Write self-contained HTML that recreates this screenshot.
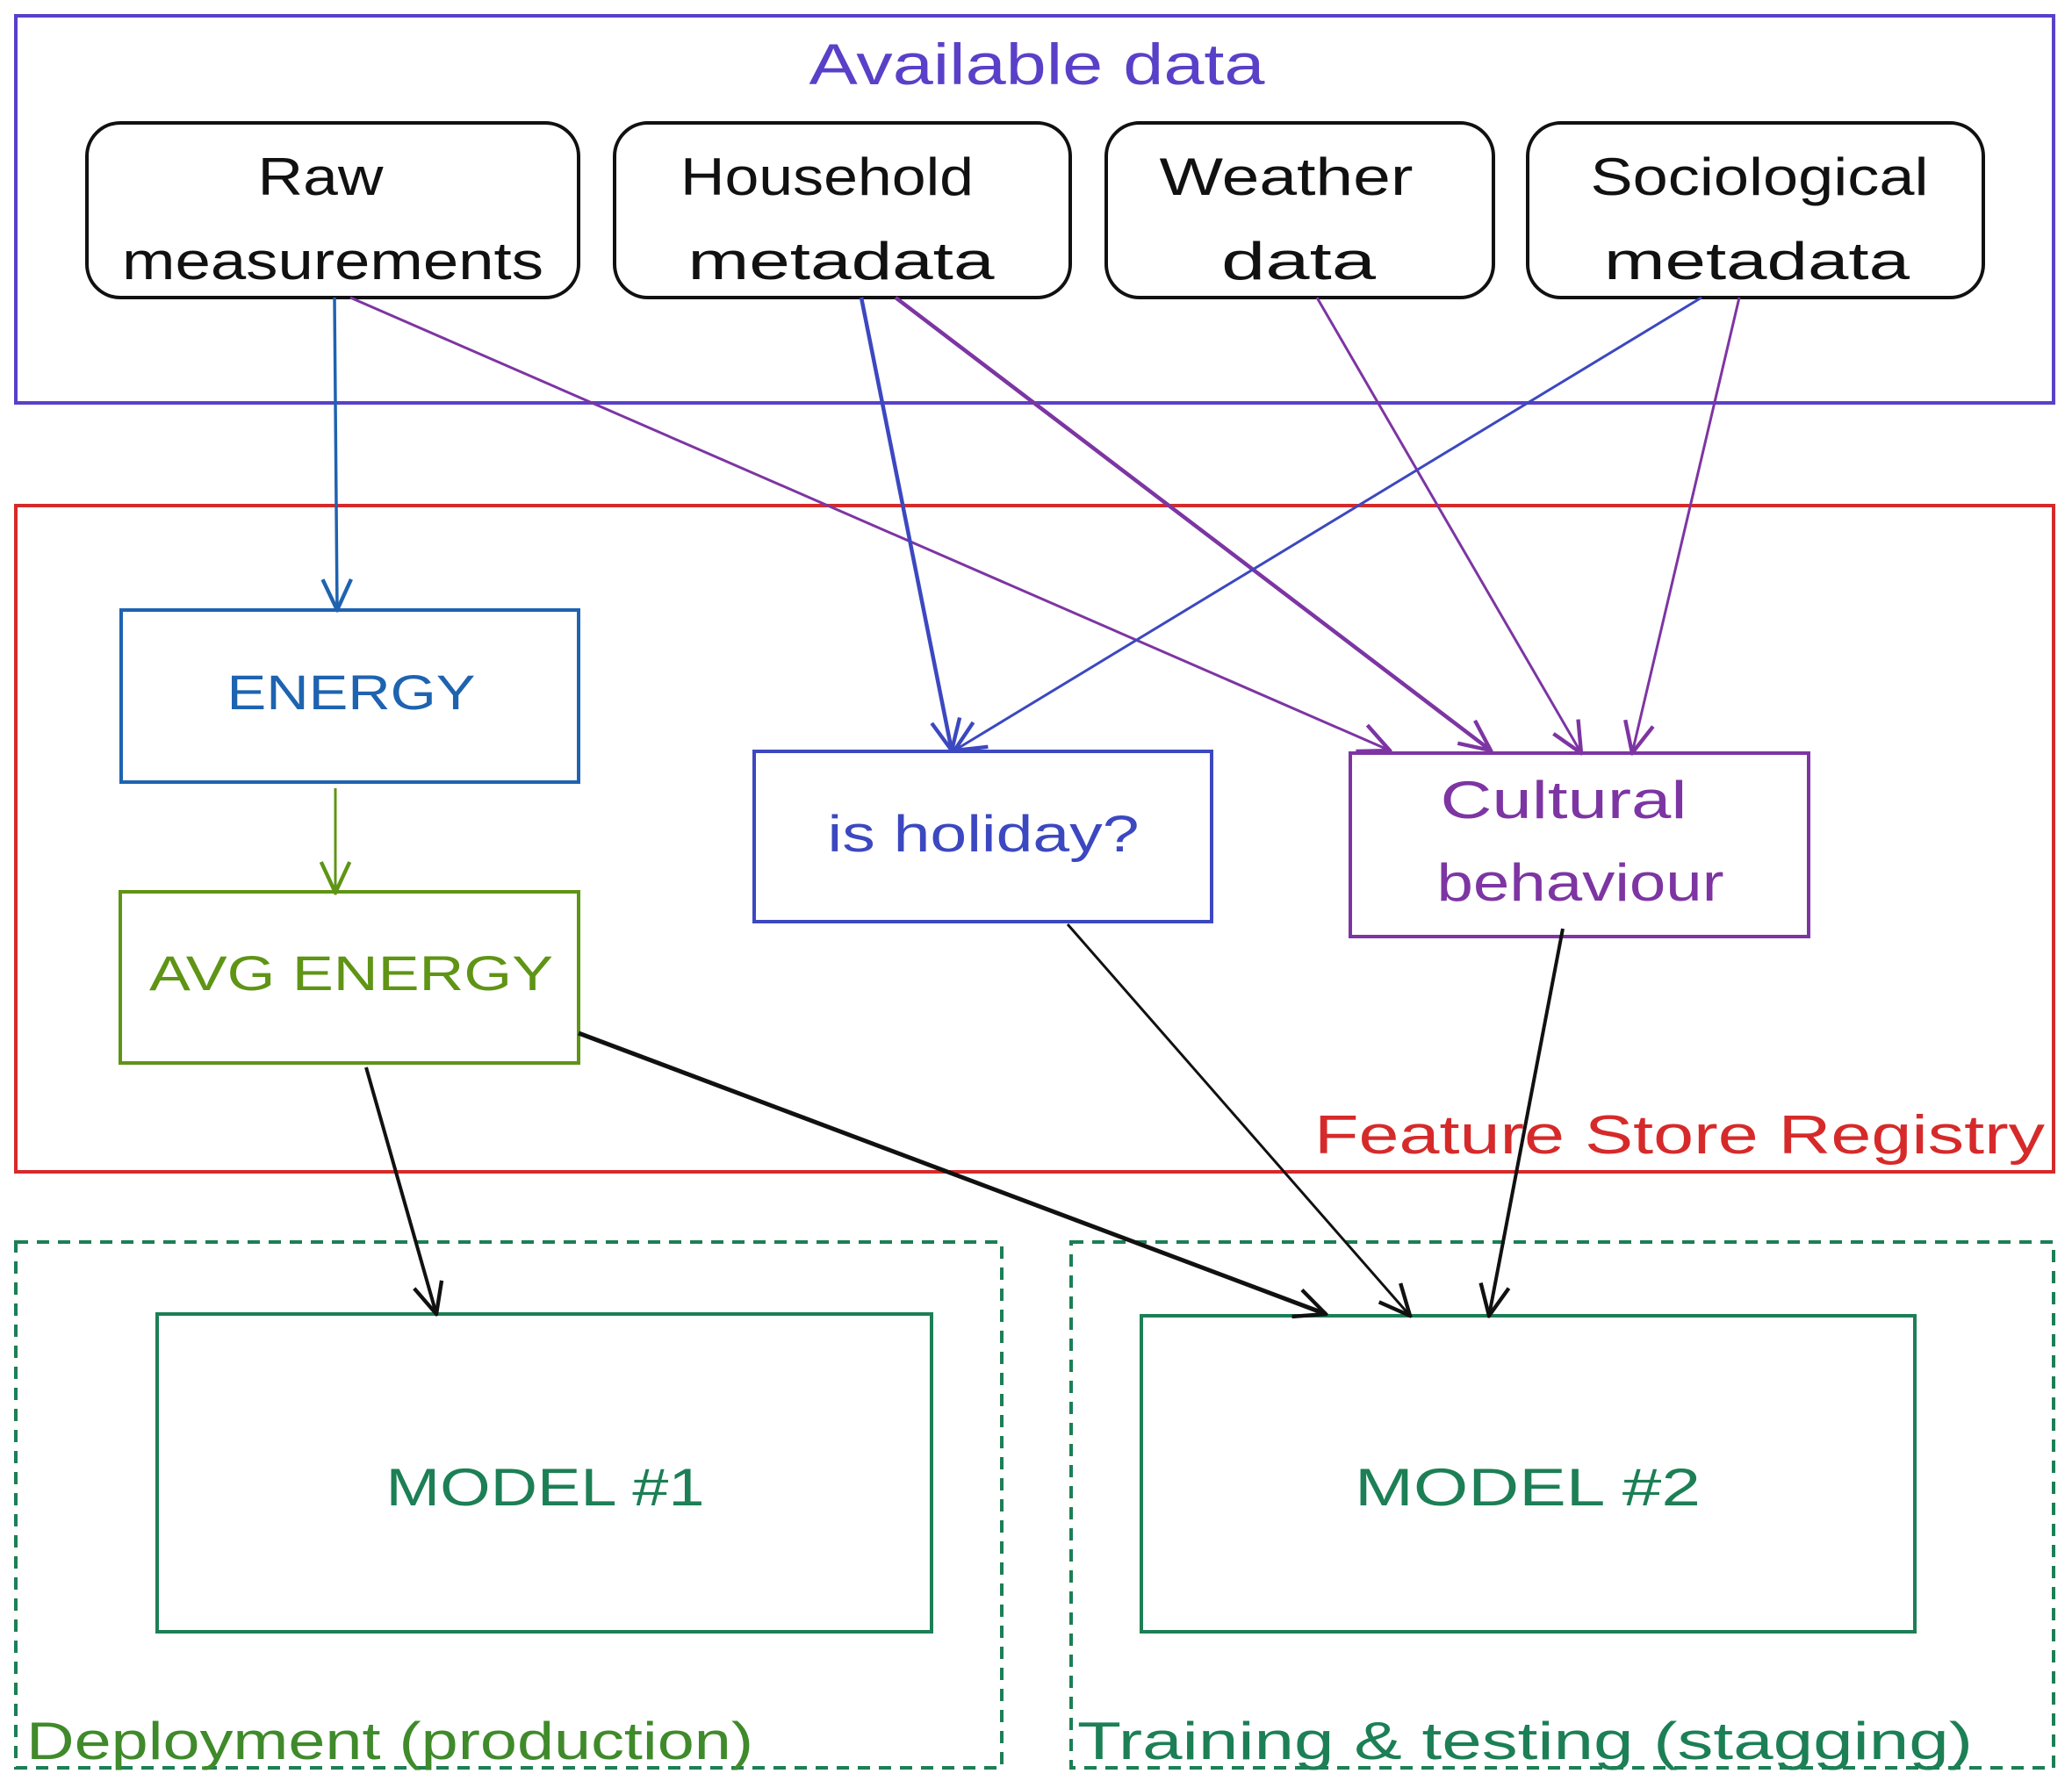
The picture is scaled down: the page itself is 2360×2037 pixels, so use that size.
<!DOCTYPE html>
<html><head><meta charset="utf-8"><style>
html,body{margin:0;padding:0;background:#fff;}
svg{display:block;}
text{font-family:"Liberation Sans",sans-serif;}
</style></head><body>
<svg width="2360" height="2037" viewBox="0 0 2360 2037" xmlns="http://www.w3.org/2000/svg">
<defs>
<marker id="ab" markerWidth="40" markerHeight="40" refX="0" refY="0" viewBox="-30 -15 32 30" orient="auto" markerUnits="userSpaceOnUse">
<path d="M-28,-13 L0,0 L-28,13" fill="none" stroke="context-stroke" stroke-width="3.5"/>
</marker>
</defs>
<g fill="none" stroke-width="4">
<rect x="18" y="18" width="2321" height="441" stroke="#5a40c8"/>
<rect x="18" y="576" width="2321" height="759" stroke="#d62a2a"/>
<rect x="18" y="1415" width="1123" height="599" stroke="#1c7f55" stroke-dasharray="14 10"/>
<rect x="1220" y="1415" width="1119" height="599" stroke="#1c7f55" stroke-dasharray="14 10"/>
<rect x="99" y="140" width="560" height="199" rx="38" stroke="#111"/>
<rect x="700" y="140" width="519" height="199" rx="38" stroke="#111"/>
<rect x="1260" y="140" width="441" height="199" rx="38" stroke="#111"/>
<rect x="1740" y="140" width="519" height="199" rx="38" stroke="#111"/>
<rect x="138" y="695" width="521" height="196" stroke="#1e63b0"/>
<rect x="137" y="1016" width="522" height="195" stroke="#5f9415"/>
<rect x="859" y="856" width="521" height="194" stroke="#3c48c0"/>
<rect x="1538" y="858" width="522" height="209" stroke="#7d35a3"/>
<rect x="179" y="1497" width="882" height="362" stroke="#1c7f55"/>
<rect x="1300" y="1499" width="881" height="360" stroke="#1c7f55"/>
</g>
<g fill="none" stroke-width="3" marker-end="url(#ab)">
<line x1="381" y1="339" x2="384" y2="695" stroke="#1e63b0" stroke-width="3.5"/>
<line x1="399" y1="339" x2="1583" y2="855" stroke="#7d35a3"/>
<line x1="981" y1="339" x2="1084" y2="855" stroke="#3c48c0" stroke-width="4.5"/>
<line x1="1020" y1="339" x2="1698" y2="855" stroke="#7d35a3" stroke-width="4.5"/>
<line x1="1500" y1="339" x2="1801" y2="858" stroke="#7d35a3"/>
<line x1="1938" y1="339" x2="1087" y2="855" stroke="#3c48c0"/>
<line x1="1981" y1="339" x2="1859" y2="858" stroke="#7d35a3"/>
<line x1="382" y1="898" x2="382" y2="1017" stroke="#5f9415"/>
<line x1="417" y1="1216" x2="497" y2="1497" stroke="#111" stroke-width="4"/>
<line x1="659" y1="1177" x2="1510" y2="1497" stroke="#111" stroke-width="5"/>
<line x1="1216" y1="1053" x2="1606" y2="1499" stroke="#111"/>
<line x1="1780" y1="1058" x2="1696" y2="1499" stroke="#111" stroke-width="4"/>
</g>
<g text-anchor="middle" font-size="60" lengthAdjust="spacingAndGlyphs">
<text x="1181" y="96" fill="#5a40c8" font-size="66" textLength="519" lengthAdjust="spacingAndGlyphs">Available data</text>
<text x="365" y="222" fill="#111" textLength="143" lengthAdjust="spacingAndGlyphs">Raw</text>
<text x="379" y="318" fill="#111" textLength="480" lengthAdjust="spacingAndGlyphs">measurements</text>
<text x="942" y="222" fill="#111" textLength="334" lengthAdjust="spacingAndGlyphs">Household</text>
<text x="958" y="318" fill="#111" textLength="349" lengthAdjust="spacingAndGlyphs">metadata</text>
<text x="1465" y="222" fill="#111" textLength="289" lengthAdjust="spacingAndGlyphs">Weather</text>
<text x="1479" y="318" fill="#111" textLength="176" lengthAdjust="spacingAndGlyphs">data</text>
<text x="2004" y="222" fill="#111" textLength="385" lengthAdjust="spacingAndGlyphs">Sociological</text>
<text x="2001" y="318" fill="#111" textLength="348" lengthAdjust="spacingAndGlyphs">metadata</text>
<text x="400" y="808" fill="#1e63b0" font-size="56" textLength="283" lengthAdjust="spacingAndGlyphs">ENERGY</text>
<text x="400" y="1128" fill="#5f9415" font-size="56" textLength="460" lengthAdjust="spacingAndGlyphs">AVG ENERGY</text>
<text x="1120" y="970" fill="#3c48c0" font-size="58" textLength="355" lengthAdjust="spacingAndGlyphs">is holiday?</text>
<text x="1781" y="932" fill="#7d35a3" font-size="60" textLength="281" lengthAdjust="spacingAndGlyphs">Cultural</text>
<text x="1800" y="1026" fill="#7d35a3" font-size="60" textLength="327" lengthAdjust="spacingAndGlyphs">behaviour</text>
<text x="1913" y="1314" fill="#d62a2a" font-size="62" textLength="832" lengthAdjust="spacingAndGlyphs">Feature Store Registry</text>
<text x="621" y="1715" fill="#1c7f55" font-size="60" textLength="363" lengthAdjust="spacingAndGlyphs">MODEL #1</text>
<text x="1740" y="1715" fill="#1c7f55" font-size="60" textLength="394" lengthAdjust="spacingAndGlyphs">MODEL #2</text>
</g>
<text x="30" y="2004" fill="#3f8a2a" font-size="60" textLength="828" lengthAdjust="spacingAndGlyphs">Deployment (production)</text>
<text x="1227" y="2004" fill="#1c7f55" font-size="60" textLength="1020" lengthAdjust="spacingAndGlyphs">Training &amp; testing (stagging)</text>
</svg>
</body></html>
